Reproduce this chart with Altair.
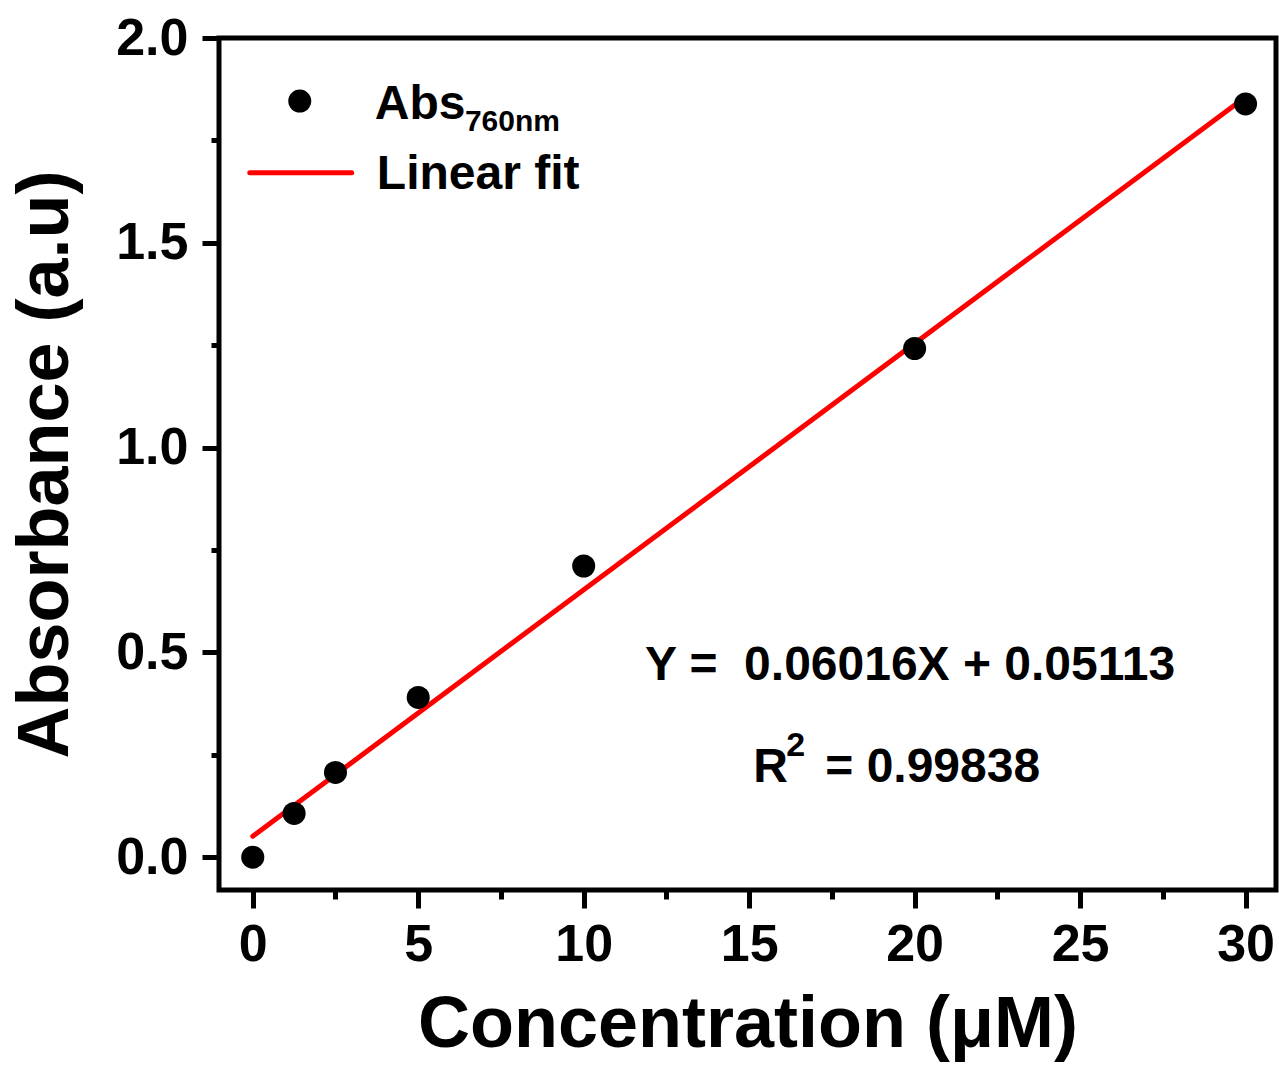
import altair as alt
import pandas as pd

# measured data
conc = [0, 1.25, 2.5, 5, 10, 20, 30]
absorb = [0.0, 0.107, 0.207, 0.39, 0.711, 1.242, 1.839]

# linear fit end points (Y = 0.06016X + 0.05113)
fit_x = [0, 30]
fit_y = [0.05113, 1.85593]

x_major = [0, 5, 10, 15, 20, 25, 30]
x_minor = [2.5, 7.5, 12.5, 17.5, 22.5, 27.5]
y_major = [0.0, 0.5, 1.0, 1.5, 2.0]
y_minor = [0.25, 0.75, 1.25, 1.75]

FONT = "Liberation Sans"

pts = pd.DataFrame({"conc": conc, "abs": absorb})
fit = pd.DataFrame({"conc": fit_x, "abs": fit_y})

xscale = alt.Scale(domain=[-1.02, 30.92], nice=False, zero=False)
yscale = alt.Scale(domain=[-0.08, 2.0], nice=False, zero=False)

major_x_axis = alt.Axis(
    values=x_major, orient="bottom", title="Concentration (μM)", format="d",
    domain=False, grid=False, ticks=True, tickSize=18, tickWidth=5, tickColor="black",
    labelFont=FONT, labelFontSize=52, labelFontWeight="bold", labelColor="black",
    labelPadding=11, labelFlush=False, labelOverlap=False,
    titleFont=FONT, titleFontSize=72, titleFontWeight="bold", titleColor="black",
    titlePadding=19,
)
major_y_axis = alt.Axis(
    values=y_major, orient="left", title="Absorbance (a.u)", format=".1f",
    domain=False, grid=False, ticks=True, tickSize=17, tickWidth=5, tickColor="black",
    labelFont=FONT, labelFontSize=52, labelFontWeight="bold", labelColor="black",
    labelPadding=14, labelFlush=False, labelOverlap=False,
    titleFont=FONT, titleFontSize=72, titleFontWeight="bold", titleColor="black",
    titlePadding=33,
)
minor_x_axis = alt.Axis(values=x_minor, orient="bottom", title=None, labels=False,
                        domain=False, grid=False, tickSize=9, tickWidth=5, tickColor="black")
minor_y_axis = alt.Axis(values=y_minor, orient="left", title=None, labels=False,
                        domain=False, grid=False, tickSize=8, tickWidth=5, tickColor="black")

points = alt.Chart(pts).mark_circle(color="black", opacity=1, size=530).encode(
    x=alt.X("conc:Q", scale=xscale, axis=major_x_axis),
    y=alt.Y("abs:Q", scale=yscale, axis=major_y_axis),
)

minor = alt.Chart(pts).mark_point(opacity=0).encode(
    x=alt.X("conc:Q", scale=xscale, axis=minor_x_axis),
    y=alt.Y("abs:Q", scale=yscale, axis=minor_y_axis),
)

line = alt.Chart(fit).mark_line(color="#ff0000", strokeWidth=5, strokeCap="round").encode(
    x=alt.X("conc:Q", scale=xscale, axis=None),
    y=alt.Y("abs:Q", scale=yscale, axis=None),
)

# legend
leg_dot = pd.DataFrame({"conc": [1.42], "abs": [1.846]})
leg_line = pd.DataFrame({"conc": [-0.09, 2.99], "abs": [1.671, 1.671]})

legend_dot = alt.Chart(leg_dot).mark_circle(color="black", opacity=1, size=530).encode(
    x=alt.X("conc:Q", scale=xscale, axis=None),
    y=alt.Y("abs:Q", scale=yscale, axis=None),
)
legend_line = alt.Chart(leg_line).mark_line(color="#ff0000", strokeWidth=5, strokeCap="round").encode(
    x=alt.X("conc:Q", scale=xscale, axis=None),
    y=alt.Y("abs:Q", scale=yscale, axis=None),
)


def label(txt, xv, yv, size):
    df = pd.DataFrame({"conc": [xv], "abs": [yv], "t": [txt]})
    return alt.Chart(df).mark_text(
        font=FONT, fontWeight="bold", fontSize=size, color="black",
        align="left", baseline="alphabetic",
    ).encode(
        x=alt.X("conc:Q", scale=xscale, axis=None),
        y=alt.Y("abs:Q", scale=yscale, axis=None),
        text="t:N",
    )


texts = [
    label("Abs", 3.69, 1.803, 48),
    label("760nm", 6.41, 1.773, 30),
    label("Linear fit", 3.75, 1.632, 48),
    label("Y =\u00a0 0.06016X + 0.05113", 11.85, 0.4336, 48),
    label("R", 15.12, 0.1827, 48),
    label("2", 16.12, 0.246, 34),
    label("= 0.99838", 17.30, 0.1827, 48),
]

chart = alt.layer(minor, line, points, legend_line, legend_dot, *texts).resolve_axis(
    x="independent", y="independent"
).properties(
    width=1057, height=852,
    autosize=alt.AutoSizeParams(type="none"),
    padding={"left": 219, "top": 38, "right": 3, "bottom": 175},
    background="white",
).configure_view(stroke="black", strokeWidth=5)

chart.save("out.html", embed_options={"renderer": "svg", "actions": False})
